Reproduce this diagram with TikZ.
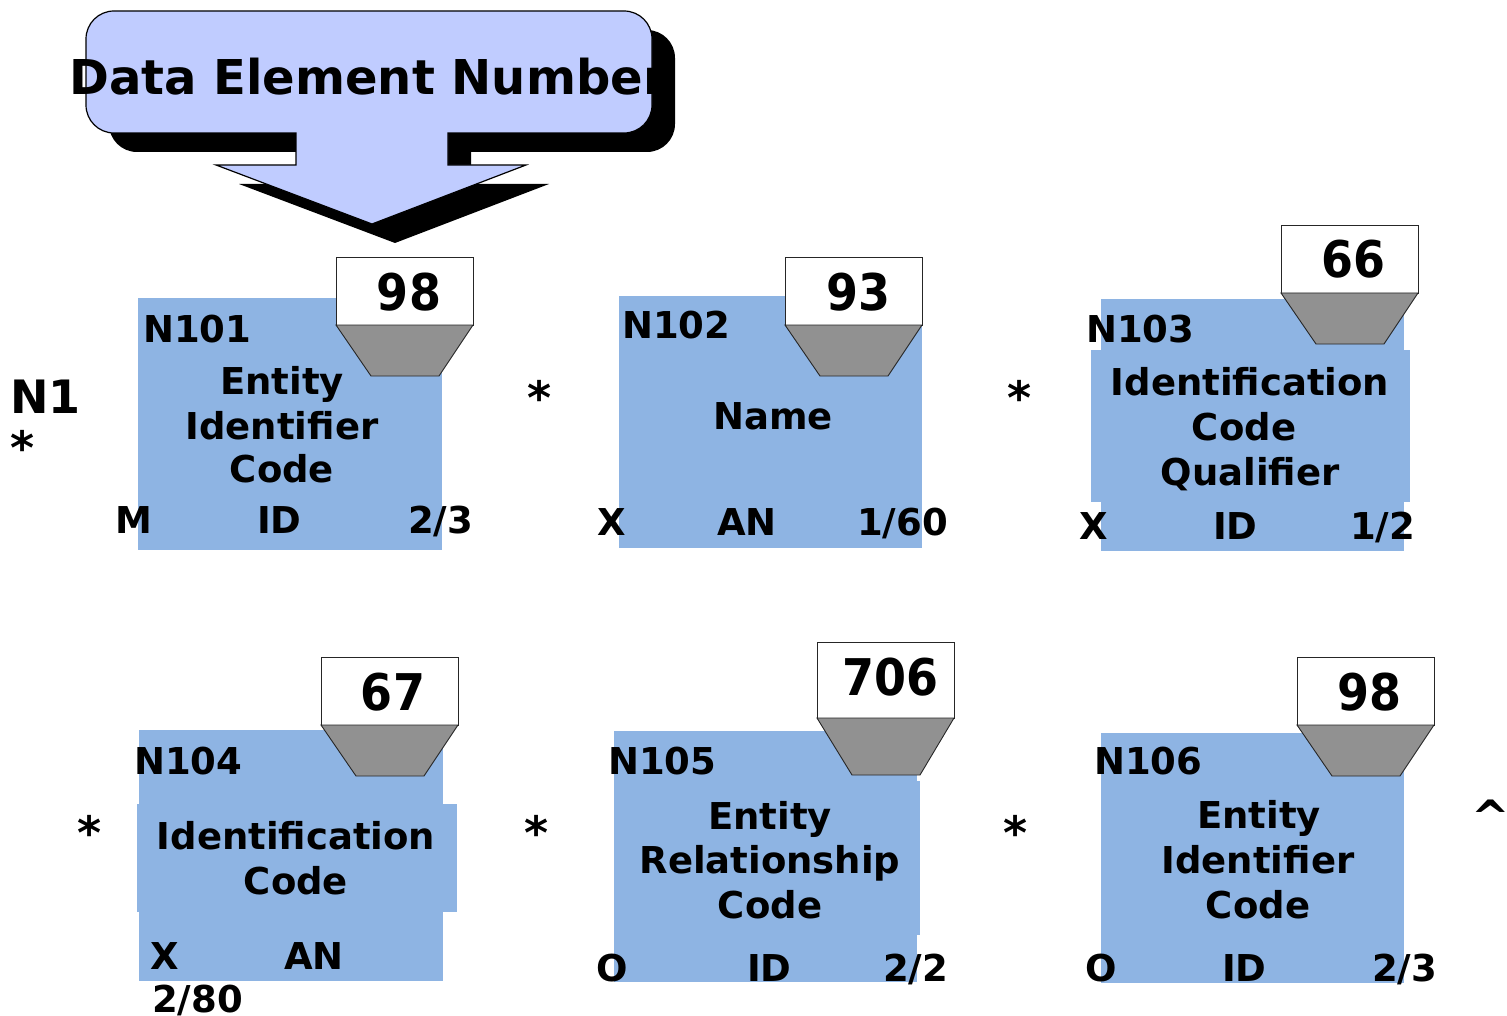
\documentclass[tikz,border=0pt]{standalone}
\usepackage{fontspec}
\setmainfont{DejaVu Sans}
\definecolor{fieldblue}{RGB}{142,180,227}
\definecolor{calloutfill}{RGB}{192,204,255}
\definecolor{funnelgray}{RGB}{145,145,145}
\tikzset{
  field/.style={fill=fieldblue, draw=none},
  tagface/.style={fill=white, draw=black!85, line width=0.9pt},
  tagfunnel/.style={fill=funnelgray, draw=black!85, line width=0.9pt, line join=miter},
  txt/.style={font=\bfseries\fontsize{37}{44}\selectfont, inner sep=0pt, anchor=base},
  txtl/.style={txt, anchor=base west},
  num/.style={font=\bfseries\fontsize{46}{50}\selectfont, inner sep=0pt, anchor=base},
  starmark/.style={font=\bfseries\fontsize{46}{50}\selectfont, inner sep=0pt, anchor=base},
  headline/.style={font=\bfseries\fontsize{48}{52}\selectfont, inner sep=0pt, anchor=base},
}
% tall digits for the element numbers
\newcommand\tallnum[1]{\scalebox{1}[1.1]{#1}}
% element number tag: #1 left x, #2 top y, #3 face height, #4 funnel height
\newcommand\elemtag[4]{%
  \draw[tagface] (#1,#2) rectangle (#1+137,#2+#3);
  \draw[tagfunnel] (#1,#2+#3) -- (#1+137,#2+#3) -- (#1+103,#2+#3+#4) -- (#1+35,#2+#3+#4) -- cycle;
}
% callout outline: rounded box with a downward arrow
\newcommand\calloutpath{%
  (296,133) -- (296,165) -- (216,165) -- (372,224) -- (526,165) -- (448,165) -- (448,133)
  -- (624,133) .. controls (639.5,133) and (652,120.5) .. (652,105)
  -- (652,39) .. controls (652,23.5) and (639.5,11) .. (624,11)
  -- (114,11) .. controls (98.5,11) and (86,23.5) .. (86,39)
  -- (86,105) .. controls (86,120.5) and (98.5,133) .. (114,133) -- cycle}
\begin{document}
\begin{tikzpicture}[x=1pt, y=-1pt]
\useasboundingbox (0,0) rectangle (1507,1016);

% ---- callout ----
\begin{scope}[shift={(23,19)}]
  \fill[black] \calloutpath;
\end{scope}
\draw[fill=calloutfill, line width=1.2pt, line join=miter] \calloutpath;
\node[headline] (title) at (368,95) {Data Element Number};

% ---- segment label ----
\node[headline, font=\bfseries\fontsize{46}{50}\selectfont, anchor=base west] (seg) at (10,413) {N1};
\node[starmark, anchor=base] (segstar) at (23,464) {*};

% ---- row 1 ----
\fill[field] (138,298) rectangle (442,550);
\elemtag{336}{257}{68}{51}
\node[num] (t1) at (409,310) {\tallnum{98}};
\node[txtl] (n101) at (143,342) {N101};
\node[txt] (d1a) at (282,394) {Entity};
\node[txt] (d1b) at (282,439) {Identifier};
\node[txt] (d1c) at (282,482) {Code};
\node[txtl] (r1) at (115,533) {M};
\node[txtl] (y1) at (257,533) {ID};
\node[txtl] (l1) at (408,533) {2/3};

\node[starmark] (s12) at (540,414) {*};

\fill[field] (619,296) rectangle (922,548);
\elemtag{785}{257}{68}{51}
\node[num] (t2) at (858,310) {\tallnum{93}};
\node[txtl] (n102) at (622,338) {N102};
\node[txt] (d2a) at (773,429) {Name};
\node[txtl] (r2) at (597,535) {X};
\node[txtl] (y2) at (717,535) {AN};
\node[txtl] (l2) at (857,535) {1/60};

\node[starmark] (s23) at (1020,414) {*};

\fill[field] (1101,299) rectangle (1404,551);
\fill[field] (1091,350) rectangle (1410,502);
\elemtag{1281}{225}{68}{51}
\node[num] (t3) at (1353,278) {\tallnum{66}};
\node[txtl] (n103) at (1086,342) {N103};
\node[txt] (d3a) at (1250,395) {Identification};
\node[txt] (d3b) at (1244,440) {Code};
\node[txt] (d3c) at (1250,485) {Qualifier};
\node[txtl] (r3) at (1079,539) {X};
\node[txtl] (y3) at (1213,539) {ID};
\node[txtl] (l3) at (1350,539) {1/2};

% ---- row 2 ----
\node[starmark] (s34) at (90,849) {*};

\fill[field] (139,730) rectangle (443,981);
\fill[field] (137,804) rectangle (457,912);
\elemtag{321}{657}{68}{51}
\node[num] (t4) at (393,710) {\tallnum{67}};
\node[txtl] (n104) at (134,774) {N104};
\node[txt] (d4a) at (296,849) {Identification};
\node[txt] (d4b) at (296,894) {Code};
\node[txtl] (r4) at (150,969) {X};
\node[txtl] (y4) at (284,969) {AN};
\node[txtl] (l4) at (152,1012) {2/80};

\node[starmark] (s45) at (537,849) {*};

\fill[field] (614,731) rectangle (917,982);
\fill[field] (614,781) rectangle (920,935);
\elemtag{817}{642}{76}{57}
\node[num] (t5) at (890,695) {\tallnum{706}};
\node[txtl] (n105) at (608,774) {N105};
\node[txt] (d5a) at (770,829) {Entity};
\node[txt] (d5b) at (770,873) {Relationship};
\node[txt] (d5c) at (770,918) {Code};
\node[txtl] (r5) at (596,981) {O};
\node[txtl] (y5) at (747,981) {ID};
\node[txtl] (l5) at (883,981) {2/2};

\node[starmark] (s56) at (1016,849) {*};

\fill[field] (1101,733) rectangle (1404,983);
\elemtag{1297}{657}{68}{51}
\node[num] (t6) at (1369,710) {\tallnum{98}};
\node[txtl] (n106) at (1094,774) {N106};
\node[txt] (d6a) at (1259,828) {Entity};
\node[txt] (d6b) at (1258,873) {Identifier};
\node[txt] (d6c) at (1258,918) {Code};
\node[txtl] (r6) at (1085,981) {O};
\node[txtl] (y6) at (1222,981) {ID};
\node[txtl] (l6) at (1372,981) {2/3};

\node[starmark, anchor=base west] (caret) at (1471,833) {\^{}};
\end{tikzpicture}
\end{document}
